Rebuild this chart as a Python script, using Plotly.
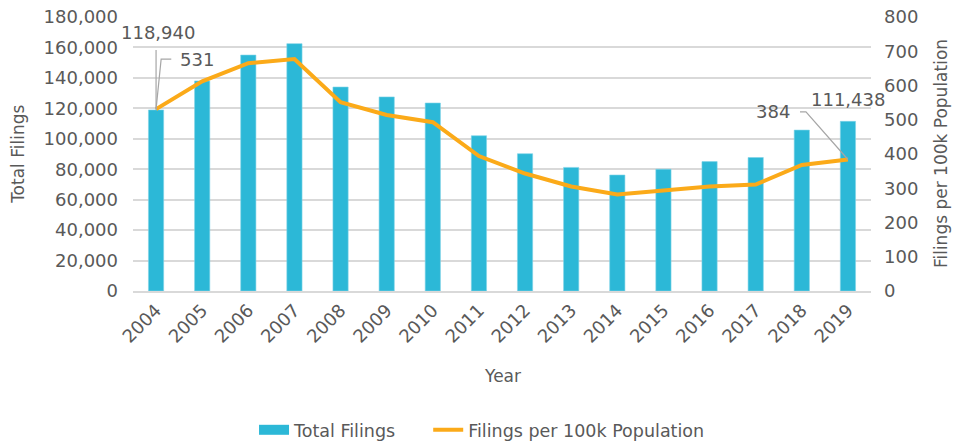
import plotly.graph_objects as go

# Annual filings and per-capita rate
years = ["2004", "2005", "2006", "2007", "2008", "2009", "2010", "2011",
         "2012", "2013", "2014", "2015", "2016", "2017", "2018", "2019"]
total_filings = [118940, 138000, 155000, 162500, 134000, 127500, 123500, 102000,
                 90200, 81200, 76200, 80000, 85000, 87700, 105700, 111438]
filings_per_100k = [531, 612, 665, 677, 551, 514, 493, 394,
                    343, 305, 282, 293, 305, 311, 368, 384]

BAR_COLOR = "#2CB8D7"
LINE_COLOR = "#FBAA19"
TEXT_COLOR = "#595959"
GRID_COLOR = "#D9D9D9"
LEADER_COLOR = "#A6A6A6"
FONT = "DejaVu Sans"

fig = go.Figure()
fig.add_trace(go.Bar(
    x=years, y=total_filings, name="Total Filings",
    marker=dict(color=BAR_COLOR, line=dict(color="#7FD3E8", width=0.6)),
    yaxis="y", showlegend=False,
))
# legend key for the bars, drawn as a wide block
fig.add_trace(go.Scatter(
    x=[None], y=[None], name="Total Filings", mode="lines",
    line=dict(color=BAR_COLOR, width=12), yaxis="y", legend="legend",
))
fig.add_trace(go.Scatter(
    x=years, y=filings_per_100k, name="Filings per 100k Population",
    mode="lines", line=dict(color=LINE_COLOR, width=4),
    yaxis="y2", legend="legend2",
))

first, last = 0, len(years) - 1
label_font = dict(size=18, color=TEXT_COLOR, family=FONT)
title_font = dict(size=17, color=TEXT_COLOR, family=FONT)
legend_font = dict(size=17.5, color=TEXT_COLOR, family=FONT)

annotations = [
    # data labels for the first and last year
    dict(x=first + 0.04, y=169500, xref="x", yref="y", text=f"{total_filings[first]:,}",
         showarrow=False, xanchor="center", yanchor="middle", font=label_font),
    dict(x=first + 0.48, y=filings_per_100k[first] + 146, xref="x", yref="y2",
         text=f"{filings_per_100k[first]}", showarrow=False, xanchor="left",
         yanchor="middle", font=label_font),
    dict(x=last, y=125500, xref="x", yref="y", text=f"{total_filings[last]:,}",
         showarrow=False, xanchor="center", yanchor="middle", font=label_font),
    dict(x=last - 1.21, y=filings_per_100k[last] + 139, xref="x", yref="y2",
         text=f"{filings_per_100k[last]}", showarrow=False, xanchor="right",
         yanchor="middle", font=label_font),
    # axis titles
    dict(x=-0.156, y=0.5, xref="paper", yref="paper", text="Total Filings",
         textangle=-90, showarrow=False, xanchor="center", yanchor="middle",
         font=title_font),
    dict(x=1.095, y=0.5, xref="paper", yref="paper", text="Filings per 100k Population",
         textangle=-90, showarrow=False, xanchor="center", yanchor="middle",
         font=title_font),
    dict(x=0.5, y=-0.31, xref="paper", yref="paper", text="Year",
         showarrow=False, xanchor="center", yanchor="middle", font=title_font),
]

shapes = [
    # leader for first bar value
    dict(type="line", xref="x", yref="y", x0=first, x1=first,
         y0=total_filings[first], y1=158300, line=dict(color=LEADER_COLOR, width=1.2)),
    # elbow leader for first rate value
    dict(type="path", xref="x", yref="y2",
         path=(f"M {first},{filings_per_100k[first]} "
               f"L {first + 0.11},{filings_per_100k[first] + 146} "
               f"L {first + 0.33},{filings_per_100k[first] + 146}"),
         line=dict(color=LEADER_COLOR, width=1.2)),
    # elbow leader for last rate value
    dict(type="path", xref="x", yref="y2",
         path=(f"M {last},{filings_per_100k[last]} "
               f"L {last - 0.91},{filings_per_100k[last] + 139} "
               f"L {last - 1.04},{filings_per_100k[last] + 139}"),
         line=dict(color=LEADER_COLOR, width=1.2)),
]

fig.update_layout(
    width=957, height=444,
    margin=dict(l=133, r=86, t=17, b=153, autoexpand=False),
    paper_bgcolor="white", plot_bgcolor="white",
    font=dict(family=FONT, color=TEXT_COLOR, size=17),
    bargap=0.67,
    showlegend=True,
    legend=dict(orientation="h", x=0.164, xanchor="left", y=-0.507, yanchor="middle",
                font=legend_font),
    legend2=dict(orientation="h", x=0.40, xanchor="left", y=-0.507, yanchor="middle",
                 font=legend_font),
    xaxis=dict(
        type="category", range=[-0.5, len(years) - 0.5], autorange=False,
        tickangle=-45, showgrid=False, automargin=False,
        showline=True, linecolor=GRID_COLOR, linewidth=1.5,
        ticks="", tickfont=dict(size=18, color=TEXT_COLOR),
    ),
    yaxis=dict(
        range=[0, 180000], dtick=20000, tickformat=",", automargin=False,
        showgrid=True, gridcolor=GRID_COLOR, gridwidth=1.5,
        zeroline=False, showline=False, ticks="", ticklabelstandoff=14,
        tickfont=dict(size=18, color=TEXT_COLOR),
    ),
    yaxis2=dict(
        range=[0, 800], dtick=100, overlaying="y", side="right", automargin=False,
        showgrid=False, zeroline=False, showline=False, ticks="", ticklabelstandoff=12,
        tickfont=dict(size=18, color=TEXT_COLOR),
    ),
    annotations=annotations,
    shapes=shapes,
)

fig.write_html("out.html")
